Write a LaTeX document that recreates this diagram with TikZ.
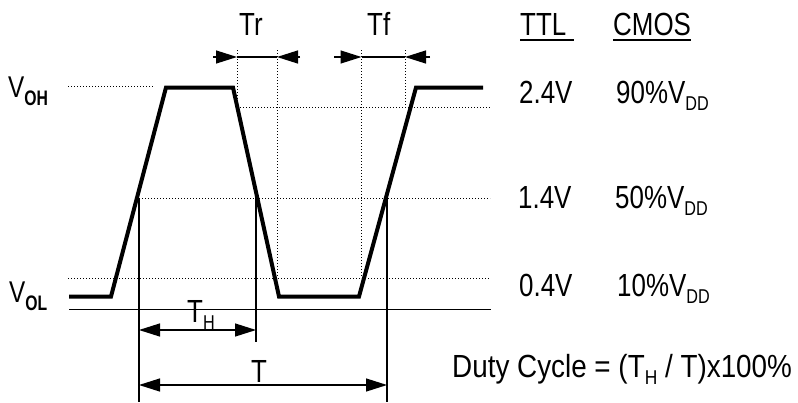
\documentclass[tikz,border=0pt]{standalone}
\usepackage{fontspec}
\setmainfont[FakeStretch=0.81]{Liberation Sans}
\newfontfamily\dutyfont[FakeStretch=0.87]{Liberation Sans}
\newfontfamily\subbf[FakeStretch=0.75]{Liberation Sans}
\usetikzlibrary{arrows.meta}
\newcommand{\lsub}[1]{\raisebox{-7pt}{\fontsize{20}{20}\selectfont #1}}
\newcommand{\bsub}[1]{\raisebox{-8pt}{\fontsize{21}{21}\subbf\bfseries #1}}
\begin{document}
\begin{tikzpicture}[x=1pt,y=-1pt,
  wave/.style={line width=4pt,line join=miter},
  thinline/.style={line width=1.3pt},
  dots/.style={line width=1pt,dash pattern=on 1pt off 2pt},
  tip/.style={line width=1.3pt,-{Triangle[length=21pt,width=13pt]}},
  dimarrow/.style={line width=1.3pt,{Triangle[length=21pt,width=13pt]}-{Triangle[length=21pt,width=13pt]}},
  lbl/.style={inner sep=0pt,anchor=base west,font=\fontsize{32}{32}\selectfont},
  vlbl/.style={inner sep=0pt,anchor=base west,font=\fontsize{30}{30}\selectfont},
  uline/.style={line width=2pt},
]
\useasboundingbox (0,0) rectangle (798,402);
% waveform
\coordinate (w0) at (69,296.5);
\coordinate (w1) at (111,296.5);
\coordinate (w2) at (166,87.5);
\coordinate (w3) at (233,87.5);
\coordinate (w4) at (279,296.5);
\coordinate (w5) at (359,296.5);
\coordinate (w6) at (416,87.5);
\coordinate (w7) at (483,87.5);
\draw[wave] (w0)--(w1)--(w2)--(w3)--(w4)--(w5)--(w6)--(w7);
% dotted level lines
\coordinate (oh0) at (68,86);   \coordinate (oh1) at (153,86);
\coordinate (n0) at (240,107);  \coordinate (n1) at (490,107);
\coordinate (f0) at (139,198);  \coordinate (f1) at (490,198);
\coordinate (t0) at (68,278);   \coordinate (t1) at (490,278);
\draw[dots] (oh0)--(oh1);
\draw[dots] (n0)--(n1);
\draw[dots] (f0)--(f1);
\draw[dots] (t0)--(t1);
% dotted verticals
\coordinate (a0) at (237,50);   \coordinate (a1) at (237,107);
\coordinate (b0) at (277,50);   \coordinate (b1) at (277,278);
\coordinate (c0) at (361.5,50); \coordinate (c1) at (361.5,278);
\coordinate (d0) at (405,50);   \coordinate (d1) at (405,107);
\draw[dots] (a0)--(a1);
\draw[dots] (b0)--(b1);
\draw[dots] (c0)--(c1);
\draw[dots] (d0)--(d1);
% solid lines
\coordinate (g0) at (69,309.5); \coordinate (g1) at (491,309.5);
\draw[thinline] (g0)--(g1);
\coordinate (v1a) at (139,198); \coordinate (v1b) at (139,402);
\coordinate (v2a) at (256,198); \coordinate (v2b) at (256,342);
\coordinate (v3a) at (387,198); \coordinate (v3b) at (387,402);
\draw[thinline] (v1a)--(v1b);
\draw[thinline] (v2a)--(v2b);
\draw[thinline] (v3a)--(v3b);
% Tr / Tf arrows
\coordinate (tra) at (213,57); \coordinate (trb) at (237,57);
\coordinate (trc) at (277,57); \coordinate (trd) at (300,57);
\draw[tip] (tra)--(trb);
\draw[tip] (trd)--(trc);
\draw[thinline] (trb)--(trc);
\coordinate (tfa) at (334,57); \coordinate (tfb) at (361.5,57);
\coordinate (tfc) at (405,57); \coordinate (tfd) at (430,57);
\draw[tip] (tfa)--(tfb);
\draw[tip] (tfd)--(tfc);
\draw[thinline] (tfb)--(tfc);
% TH and T arrows
\coordinate (tha) at (139,330); \coordinate (thb) at (256,330);
\draw[dimarrow] (tha)--(thb);
\coordinate (pa) at (139,385); \coordinate (pb) at (387,385);
\draw[dimarrow] (pa)--(pb);
% labels
\node[lbl] (tr) at (239,35) {Tr};
\node[lbl] (tf) at (367,35) {Tf};
\node[lbl] (ttl) at (520,35) {TTL};
\node[lbl] (cmos) at (613,35) {CMOS};
\draw[uline] ([yshift=-4.5pt]ttl.base west) -- ++(54,0);
\draw[uline] ([yshift=-4.5pt]cmos.base west) -- ++(78,0);
\node[lbl] (v24) at (519,103) {2.4V};
\node[lbl] (p90) at (616,103) {90\%V\lsub{DD}};
\node[lbl] (v14) at (518,208) {1.4V};
\node[lbl] (p50) at (615,208) {50\%V\lsub{DD}};
\node[lbl] (v04) at (519,296) {0.4V};
\node[lbl] (p10) at (617,296) {10\%V\lsub{DD}};
\node[lbl,font=\fontsize{32}{32}\dutyfont] (duty) at (452,377) {Duty Cycle = (T\lsub{H} / T)x100\%};
\node[vlbl] (voh) at (8,97) {V\bsub{OH}};
\node[vlbl] (vol) at (9,302) {V\bsub{OL}};
\node[lbl] (th) at (187,322) {T\lsub{H}};
\node[lbl] (tt) at (251,382) {T};
\end{tikzpicture}
\end{document}
